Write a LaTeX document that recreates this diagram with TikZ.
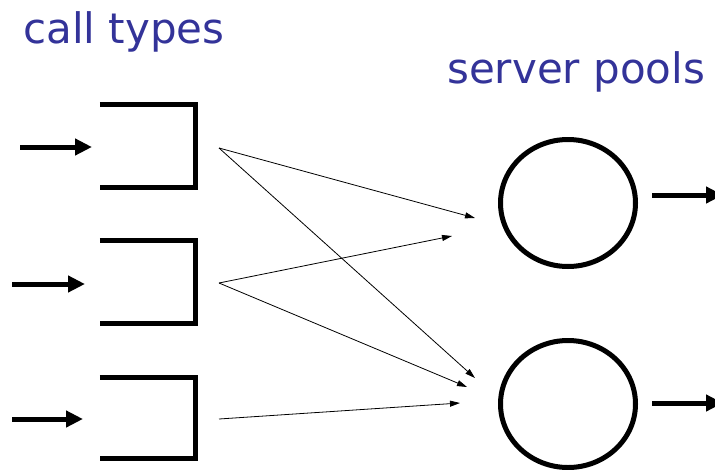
\documentclass[tikz,border=0pt]{standalone}
\usepackage{fontspec}
\setmainfont{DejaVu Sans}
\usetikzlibrary{arrows.meta,shapes.geometric}
\definecolor{labelblue}{HTML}{333399}
\tikzset{
  queue/.style={rectangle, minimum width=95pt, minimum height=82pt, inner sep=0pt},
  qline/.style={line width=5pt, line join=miter},
  pool/.style={ellipse, draw, line width=5pt, minimum width=135pt, minimum height=127pt, inner sep=0pt},
  bigarrow/.style={line width=5pt, -{Triangle[length=17pt,width=16pt]}},
  thinarrow/.style={line width=0.8pt, -{Triangle[length=10pt,width=6pt]}},
  title/.style={anchor=base west, inner sep=0pt, text=labelblue, font=\fontsize{42}{50}\selectfont}
}
\begin{document}
\begin{tikzpicture}[x=1pt,y=-1pt]
\useasboundingbox (0,0) rectangle (715,469);

% headings
\node[title] (ct) at (23,43) {call types};
\node[title] (sp) at (447,83) {server pools};

% call-type queues (open on the left)
\node[queue] (q1) at (147.5,146) {};
\node[queue] (q2) at (147.5,282) {};
\node[queue, minimum height=80pt] (q3) at (147.5,418) {};
\foreach \q in {q1,q2,q3}
  \draw[qline] (\q.north west) -- (\q.north east) -- (\q.south east) -- (\q.south west);

% server pools
\node[pool] (p1) at (568,203) {};
\node[pool] (p2) at (568,404) {};

% arrival streams
\coordinate (a1) at (20,147);  \coordinate (b1) at (92,147);
\coordinate (a2) at (12,284);  \coordinate (b2) at (85,284);
\coordinate (a3) at (12,419);  \coordinate (b3) at (83,419);
\draw[bigarrow] (a1) -- (b1);
\draw[bigarrow] (a2) -- (b2);
\draw[bigarrow] (a3) -- (b3);

% departures
\coordinate (d1) at (652,195); \coordinate (e1) at (723,195);
\coordinate (d2) at (652,403); \coordinate (e2) at (723,403);
\draw[bigarrow] (d1) -- (e1);
\draw[bigarrow] (d2) -- (e2);

% routing from queues to pools
\coordinate (s1) at (219,148);
\coordinate (s2) at (219,283);
\coordinate (s3) at (219,419);
\coordinate (t1a) at (475,218);
\coordinate (t1b) at (475,378);
\coordinate (t2a) at (452,236);
\coordinate (t2b) at (467,387);
\coordinate (t3) at (460,403);
\draw[thinarrow] (s1) -- (t1a);
\draw[thinarrow] (s1) -- (t1b);
\draw[thinarrow] (s2) -- (t2a);
\draw[thinarrow] (s2) -- (t2b);
\draw[thinarrow] (s3) -- (t3);
\end{tikzpicture}
\end{document}
